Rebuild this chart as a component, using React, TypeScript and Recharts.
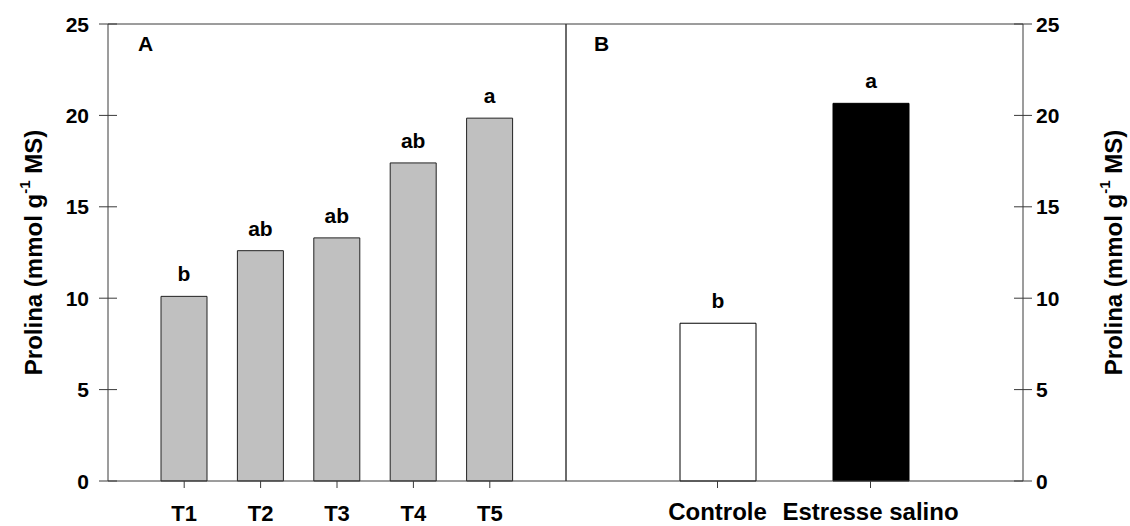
import React from "react";
import { BarChart, Bar, XAxis, YAxis, Cell, LabelList } from "recharts";

// Painel A: tratamentos
const treatments = ["T1", "T2", "T3", "T4", "T5"];
const treatmentValues = [10.1, 12.6, 13.3, 17.4, 19.85];
const treatmentLetters = ["b", "ab", "ab", "ab", "a"];

// Painel B: condição
const conditions = ["Controle", "Estresse salino"];
const conditionValues = [8.63, 20.66];
const conditionLetters = ["b", "a"];
const conditionFills = ["#ffffff", "#000000"];

const yTicks = [0, 5, 10, 15, 20, 25];

const dataA = treatments.map((name, i) => ({ name, value: treatmentValues[i], letter: treatmentLetters[i] }));
const dataB = conditions.map((name, i) => ({ name, value: conditionValues[i], letter: conditionLetters[i] }));

const W = 1130;
const H = 526;
const FONT = "'Liberation Sans', Arial, sans-serif";
const AXIS = "#3a3a3a";
const TICK = 9;

function YTick(props: any) {
  const { x, y, payload, side, gap } = props;
  const axisX = side === "left" ? x + TICK + gap : x - TICK - gap;
  return (
    <g>
      <line x1={axisX - TICK} x2={axisX + TICK} y1={y} y2={y} stroke={AXIS} strokeWidth={1} />
      <text
        x={x}
        y={y}
        dy="0.36em"
        textAnchor={side === "left" ? "end" : "start"}
        fontFamily={FONT}
        fontWeight="bold"
        fontSize={21}
        fill="#000"
      >
        {payload.value}
      </text>
    </g>
  );
}

function AxisTitle({ viewBox, shift }: any) {
  const bx = viewBox.x + shift;
  const cy = viewBox.y + viewBox.height / 2;
  return (
    <text
      x={bx}
      y={cy}
      transform={`rotate(-90 ${bx} ${cy})`}
      textAnchor="middle"
      fontFamily={FONT}
      fontWeight="bold"
      fontSize={24}
      fill="#000"
    >
      Prolina (mmol g
      <tspan fontSize={15} dy="-0.8em">-1</tspan>
      <tspan dy="0.5em"> MS)</tspan>
    </text>
  );
}

const letterStyle = { fill: "#000", fontSize: 21, fontWeight: "bold", fontFamily: FONT };

// thin axes used only to close the plot frame (top edge and panel divider)
const frameX = { xAxisId: "top", orientation: "top" as const, dataKey: "name", height: 1, tick: false, tickLine: false, axisLine: { stroke: AXIS } };
const frameY = { yAxisId: "frame", domain: [0, 25], width: 1, tick: false, tickLine: false, axisLine: { stroke: AXIS } };

export default function App() {
  return (
    <div style={{ position: "absolute", left: 0, top: 0, width: W, height: H, background: "#fff" }}>
      <div style={{ position: "absolute", left: 0, top: 0 }}>
        <BarChart width={W} height={H} data={dataA} margin={{ top: 23, right: W - 567, bottom: 0, left: 8 }}>
          <XAxis
            dataKey="name"
            height={45}
            padding={{ left: 38, right: 38 }}
            axisLine={{ stroke: AXIS }}
            tickLine={{ stroke: AXIS }}
            tickSize={7}
            tickMargin={17}
            tick={{ fill: "#000", fontSize: 22, fontWeight: "bold", fontFamily: FONT }}
          />
          <XAxis {...frameX} />
          <YAxis
            domain={[0, 25]}
            ticks={yTicks}
            width={100}
            axisLine={{ stroke: AXIS }}
            tickLine={false}
            tickSize={TICK}
            tickMargin={10}
            tick={(p: any) => <YTick {...p} side="left" gap={10} />}
            label={{ content: (p: any) => <AxisTitle viewBox={p.viewBox} shift={34} /> }}
          />
          <YAxis {...frameY} orientation="right" />
          <Bar dataKey="value" barSize={46} fill="#c0c0c0" stroke="#222" strokeWidth={1} isAnimationActive={false}>
            <LabelList dataKey="letter" position="top" offset={15} {...letterStyle} />
          </Bar>
        </BarChart>
      </div>
      <div style={{ position: "absolute", left: 0, top: 0 }}>
        <BarChart width={W} height={H} data={dataB} margin={{ top: 23, right: 7, bottom: 0, left: 565 }}>
          <XAxis
            dataKey="name"
            height={45}
            padding={{ left: 75, right: 76 }}
            axisLine={{ stroke: AXIS }}
            tickLine={{ stroke: AXIS }}
            tickSize={7}
            tickMargin={15}
            tick={{ fill: "#000", fontSize: 24, fontWeight: "bold", fontFamily: FONT }}
          />
          <XAxis {...frameX} />
          <YAxis {...frameY} orientation="left" />
          <YAxis
            orientation="right"
            domain={[0, 25]}
            ticks={yTicks}
            width={100}
            axisLine={{ stroke: AXIS }}
            tickLine={false}
            tickSize={TICK}
            tickMargin={4}
            tick={(p: any) => <YTick {...p} side="right" gap={4} />}
            label={{ content: (p: any) => <AxisTitle viewBox={p.viewBox} shift={99} /> }}
          />
          <Bar dataKey="value" barSize={76} stroke="#000" strokeWidth={1} isAnimationActive={false}>
            {dataB.map((d, i) => (
              <Cell key={d.name} fill={conditionFills[i]} />
            ))}
            <LabelList dataKey="letter" position="top" offset={15} {...letterStyle} />
          </Bar>
        </BarChart>
      </div>
      <svg width={W} height={H} style={{ position: "absolute", left: 0, top: 0, pointerEvents: "none" }}>
        <text x={138} y={51} fontFamily={FONT} fontWeight="bold" fontSize={21} fill="#000">A</text>
        <text x={594} y={51} fontFamily={FONT} fontWeight="bold" fontSize={21} fill="#000">B</text>
      </svg>
    </div>
  );
}
